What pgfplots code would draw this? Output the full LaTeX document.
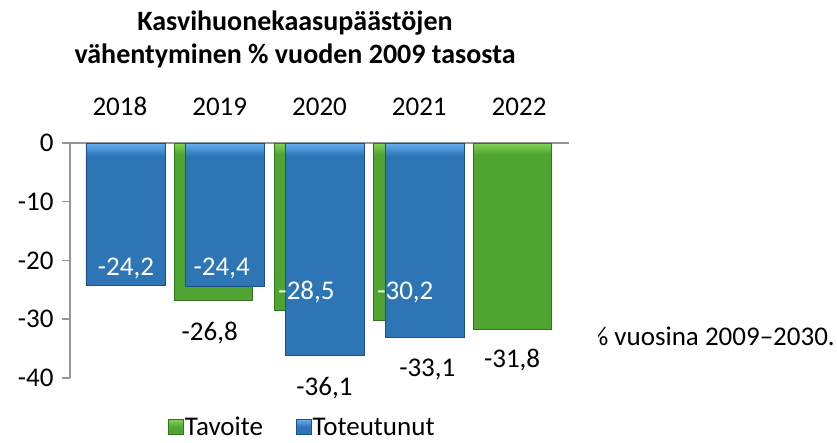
\documentclass[border=0pt]{standalone}
\usepackage{fontspec}
\setmainfont{Carlito}
\usepackage{pgfplots}
\pgfplotsset{compat=1.18}
\definecolor{gbar}{RGB}{80,165,50}
\definecolor{glight}{RGB}{130,210,85}
\definecolor{gedge}{RGB}{50,115,30}
\definecolor{bbar}{RGB}{46,117,182}
\definecolor{blight}{RGB}{100,175,240}
\definecolor{bedge}{RGB}{28,80,135}
\definecolor{axgray}{RGB}{150,150,150}
\pgfdeclareverticalshading{bshade}{100bp}{color(0bp)=(bbar); color(72bp)=(bbar); color(75bp)=(blight); color(100bp)=(blight)}
\pgfdeclareverticalshading{gshade}{100bp}{color(0bp)=(gbar); color(72bp)=(gbar); color(75bp)=(glight); color(100bp)=(glight)}
\pgfdeclareverticalshading{bshadeL}{100bp}{color(0bp)=(bbar); color(50bp)=(bbar); color(75bp)=(blight); color(100bp)=(blight)}
\pgfdeclareverticalshading{gshadeL}{100bp}{color(0bp)=(gbar); color(50bp)=(gbar); color(75bp)=(glight); color(100bp)=(glight)}
\begin{document}
\begin{tikzpicture}[x=1pt,y=1pt]
\path[use as bounding box] (0,0) rectangle (837,443);
\node[font=\fontsize{28}{33}\selectfont\bfseries, align=center] at (295,404) {Kasvihuonekaasupäästöjen\\vähentyminen \% vuoden 2009 tasosta};
\begin{scope}
\clip (598,0) rectangle (837,443);
\node[anchor=east, inner sep=0pt, font=\fontsize{27}{32}\selectfont] at (835,107) {\% vuosina 2009--2030.};
\end{scope}
\begin{axis}[
  at={(70pt,65pt)}, anchor=south west,
  scale only axis, width=499pt, height=235pt,
  xmin=-0.5, xmax=4.5, ymin=-40, ymax=0,
  axis x line*=top, axis y line*=left,
  axis line style={axgray, line width=1.5pt, -},
  xtick={0,1,2,3,4}, xticklabels={2018,2019,2020,2021,2022},
  x tick style={draw=none},
  xticklabel style={yshift=16pt},
  extra x ticks={-0.5,0.5,1.5,2.5,3.5,4.5}, extra x tick labels={},
  extra x tick style={major tick length=7pt, tick align=inside, tick style={axgray, line width=1.5pt}},
  ytick={-40,-30,-20,-10,0}, yticklabels={-40,-30,-20,-10,0},
  yticklabel style={xshift=-5pt},
  y tick style={axgray, line width=1.5pt}, major tick length=8pt, tick align=outside,
  tick label style={font=\fontsize{27}{32}\selectfont},
  clip=false,
  legend style={at={(axis description cs:0.465,-0.21)}, anchor=center, draw=none, fill=none,
    inner sep=0pt, legend columns=2, font=\fontsize{27}{30}\selectfont,
    nodes={inner sep=1pt},
    /tikz/every even column/.append style={column sep=32pt}},
]
\addplot[ybar, bar width=78pt, bar shift=-6.5pt, shade, shading=gshade, draw=gedge, line width=0.8pt,
  legend image code/.code={\shade[shading=gshadeL, draw=gedge, line width=0.5pt] (0pt,-7pt) rectangle (15pt,8pt);}]
  coordinates {(1,-26.8) (2,-28.5) (3,-30.2) (4,-31.8)};
\addlegendentry{Tavoite}
\addplot[ybar, bar width=79pt, bar shift=5.5pt, shade, shading=bshade, draw=bedge, line width=0.8pt,
  legend image code/.code={\shade[shading=bshadeL, draw=bedge, line width=0.5pt] (0pt,-7pt) rectangle (15pt,8pt);}]
  coordinates {(0,-24.2) (1,-24.4) (2,-36.1) (3,-33.1)};
\addlegendentry{Toteutunut}
\begin{scope}[font=\fontsize{27}{32}\selectfont]
\node[white] at (axis cs:0.06,-21.3) {-24,2};
\node[white] at (axis cs:1.02,-21.3) {-24,4};
\node at (axis cs:0.90,-32.3) {-26,8};
\node[white] at (axis cs:1.87,-25.4) {-28,5};
\node[white] at (axis cs:2.86,-25.5) {-30,2};
\node at (axis cs:2.05,-41.7) {-36,1};
\node at (axis cs:3.08,-38.6) {-33,1};
\node at (axis cs:3.93,-36.9) {-31,8};
\end{scope}
\end{axis}
\end{tikzpicture}
\end{document}
